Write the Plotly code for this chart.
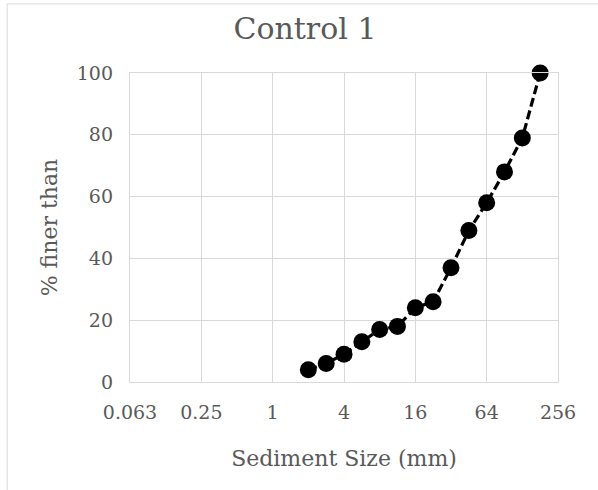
import plotly.graph_objects as go

# Data
sizes_mm = [2, 2.83, 4, 5.66, 8, 11.3, 16, 22.6, 32, 45.3, 64, 90.5, 128, 181]
pct_finer = [4, 6, 9, 13, 17, 18, 24, 26, 37, 49, 58, 68, 79, 100]
x_tickvals = [0.0625, 0.25, 1, 4, 16, 64, 256]
x_ticktext = ["0.063", "0.25", "1", "4", "16", "64", "256"]
y_tickvals = [0, 20, 40, 60, 80, 100]

FONT = "DejaVu Serif"
GREY = "#595959"
GRID = "#d9d9d9"

fig = go.Figure()
fig.add_trace(go.Scatter(
    x=sizes_mm, y=pct_finer, mode="lines+markers",
    line=dict(color="black", width=3.2, dash="9px,4px"),
    marker=dict(color="black", size=17),
    cliponaxis=False, showlegend=False,
))

fig.update_layout(
    width=598, height=490,
    margin=dict(l=130, r=40, t=73, b=108),
    paper_bgcolor="white", plot_bgcolor="white",
    font=dict(family=FONT, color=GREY, size=19),
    title=dict(text="Control 1", x=0.51, xref="container", xanchor="center",
               y=1 - 28 / 490, yref="container", yanchor="middle",
               font=dict(family=FONT, size=30, color=GREY)),
    xaxis=dict(
        type="log", range=[-1.20412, 2.40824],
        tickvals=x_tickvals, ticktext=x_ticktext,
        showgrid=True, gridcolor=GRID, gridwidth=1.3,
        showline=True, linecolor=GRID, linewidth=1.3, mirror=True,
        zeroline=False, ticks="", ticklabelstandoff=13,
        title=dict(text="Sediment Size (mm)", standoff=28,
                   font=dict(family=FONT, size=22, color=GREY)),
        tickfont=dict(family=FONT, size=19, color=GREY),
    ),
    yaxis=dict(
        range=[0, 100], tickvals=y_tickvals,
        showgrid=True, gridcolor=GRID, gridwidth=1.3,
        showline=True, linecolor=GRID, linewidth=1.3, mirror=True,
        zeroline=False, ticks="", ticklabelstandoff=12,
        title=dict(text="% finer than", standoff=13,
                   font=dict(family=FONT, size=22, color=GREY)),
        tickfont=dict(family=FONT, size=19, color=GREY),
    ),
    shapes=[dict(type="rect", xref="paper", yref="paper",
                 x0=-0.287, x1=1.3, y0=-0.5, y1=1.2237,
                 line=dict(color=GRID, width=1), layer="below")],
)

fig.write_html("out.html")
